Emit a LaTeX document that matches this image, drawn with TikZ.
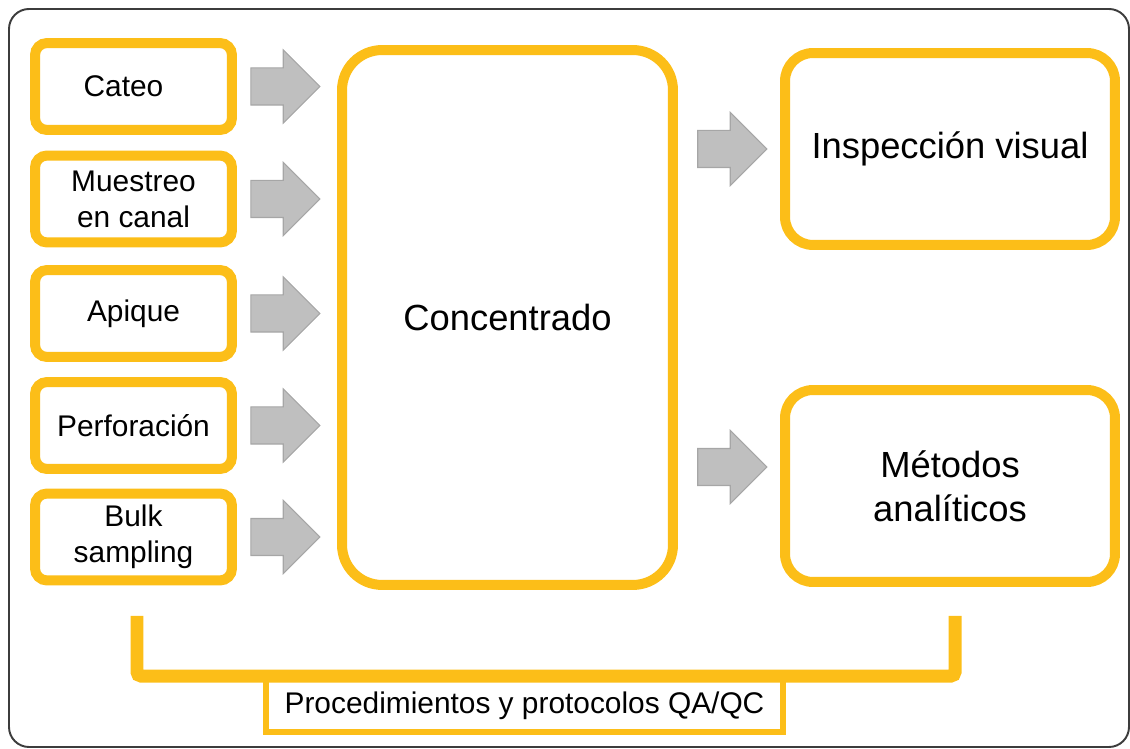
\documentclass[tikz,border=0pt]{standalone}
\usepackage{fontspec}
\setmainfont{Liberation Sans}
\usepackage{tikz}
\usetikzlibrary{shapes.arrows,calc}
\definecolor{qayellow}{RGB}{252,190,24}
\definecolor{arrowfill}{RGB}{191,191,191}
\definecolor{arrowline}{RGB}{166,166,166}
\definecolor{framegray}{RGB}{60,60,60}

\begin{document}
\begin{tikzpicture}[x=0.02cm,y=-0.02cm,
    src/.style={draw=qayellow,fill=white,line width=0.2cm,rounded corners=0.24cm,
        minimum width=3.94cm,minimum height=1.74cm,align=center,
        font=\fontsize{17}{20.5}\selectfont},
    big/.style={draw=qayellow,fill=white,line width=0.2cm,align=center,
        font=\fontsize{20.7}{25}\selectfont},
    garrow/.style={single arrow,draw=arrowline,fill=arrowfill,line width=0.6pt,
        minimum height=1.38cm,inner xsep=0pt,inner ysep=0.36cm,
        single arrow head extend=0.36cm,single arrow tip angle=90}]
             \useasboundingbox (0,0) rectangle (1130,749);
             \draw[framegray,line width=1.1pt,rounded corners=0.4cm] (9,9) rectangle (1129,747);

             \node[src] (cateo) at (133.5, 86.5) {Cateo\hspace{0.4cm}};
             \node[src] (canal) at (133.5, 199) {Muestreo\\en canal};
             \node[src] (apique) at (133.5, 313.5) {Apique};
             \node[src] (perf) at (133.5, 425.5) {Perforaci\'on};
             \node[src] (bulk) at (133.5, 537) {Bulk\\sampling};

             \node[big,rounded corners=0.8cm,minimum width=6.62cm,minimum height=10.7cm] (conc) at (507.5, 317.5) {Concentrado};
             \node[big,rounded corners=0.56cm,minimum width=6.6cm,minimum height=3.84cm] (insp) at (950, 149) {Inspecci\'on visual};
             \node[big,rounded corners=0.56cm,minimum width=6.6cm,minimum height=3.84cm] (metodos) at (950, 486) {M\'etodos\\anal\'iticos};

             \foreach \s in {cateo,canal,apique,perf,bulk}
                 \node[garrow,xshift=-0.22cm] (a-\s) at ($(\s.east)!.5!(conc.west |- \s.east)$) {};
             \node[garrow,xshift=-0.12cm] (a-insp) at ($(conc.east |- insp.west)!.5!(insp.west)$) {};
             \node[garrow,xshift=-0.12cm,yshift=0.38cm] (a-metodos) at ($(conc.east |- metodos.west)!.5!(metodos.west)$) {};

             \coordinate (bl) at (137, 616);
             \coordinate (br) at (955, 616);
             \node[draw=qayellow,fill=white,line width=0.12cm,minimum width=10.34cm,minimum height=1.06cm,
                 font=\fontsize{17}{20.5}\selectfont] (qa) at (524.5, 705.5) {Procedimientos y protocolos QA/QC};
             \draw[qayellow,line width=0.26cm,rounded corners=0.08cm] (bl) |- (qa.north) -| (br);
             \end{tikzpicture}
\end{document}
